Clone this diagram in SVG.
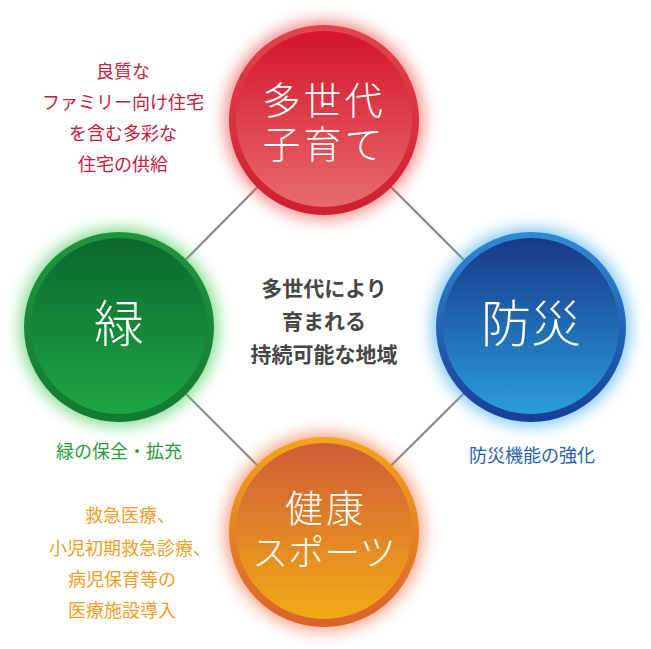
<svg xmlns="http://www.w3.org/2000/svg" width="651" height="649" viewBox="0 0 651 649">
<defs>
<style>
.conn{stroke:#8c8c8c;stroke-width:2.2;fill:none}
.big{font-family:"Noto Sans CJK JP","Noto Sans",sans-serif;font-weight:300;fill:#fff;text-anchor:middle}
.lbl{font-family:"Noto Sans CJK JP","Noto Sans",sans-serif;font-size:18px;text-anchor:middle}
.ctr{font-family:"Noto Sans CJK JP","Noto Sans",sans-serif;font-size:21px;font-weight:700;fill:#464646;text-anchor:middle}
</style>
<filter id="glow" x="-30%" y="-30%" width="160%" height="160%"><feGaussianBlur stdDeviation="8"/></filter>
<linearGradient id="rRing" x1="0" y1="0" x2="0" y2="1"><stop offset="0" stop-color="#e2454c"/><stop offset="1" stop-color="#cf1f2f"/></linearGradient>
<linearGradient id="rIn" x1="0" y1="0" x2="0" y2="1"><stop offset="0" stop-color="#d3152c"/><stop offset="1" stop-color="#e86b6b"/></linearGradient>
<linearGradient id="gRing" x1="0" y1="0" x2="0" y2="1"><stop offset="0" stop-color="#20963c"/><stop offset="1" stop-color="#137a31"/></linearGradient>
<linearGradient id="gIn" x1="0" y1="0" x2="0" y2="1"><stop offset="0" stop-color="#0b682e"/><stop offset="1" stop-color="#1ea644"/></linearGradient>
<linearGradient id="bRing" x1="0" y1="0" x2="0" y2="1"><stop offset="0" stop-color="#2f8ad6"/><stop offset="1" stop-color="#183e96"/></linearGradient>
<linearGradient id="bIn" x1="0" y1="0" x2="0" y2="1"><stop offset="0" stop-color="#183888"/><stop offset="1" stop-color="#2a9ddc"/></linearGradient>
<linearGradient id="oRing" x1="0" y1="0" x2="0" y2="1"><stop offset="0" stop-color="#f2a51a"/><stop offset="1" stop-color="#d8622e"/></linearGradient>
<linearGradient id="oIn" x1="0" y1="0" x2="0" y2="1"><stop offset="0" stop-color="#cf5c38"/><stop offset="1" stop-color="#f2aa14"/></linearGradient>
</defs>
<rect width="651" height="649" fill="#fff"/>
<g id="connectors">
<line class="conn" x1="324" y1="120" x2="119" y2="327"/>
<line class="conn" x1="324" y1="120" x2="531" y2="327"/>
<line class="conn" x1="119" y1="327" x2="324" y2="532"/>
<line class="conn" x1="531" y1="327" x2="324" y2="532"/>
</g>
<g id="node-red">
<circle cx="324" cy="120" r="99" fill="#f0524f" opacity="0.7" filter="url(#glow)"/>
<circle cx="324" cy="120" r="95" fill="url(#rRing)"/>
<circle cx="324" cy="119" r="88" fill="url(#rIn)"/>
<text class="big" font-size="38" letter-spacing="3"><tspan x="324" y="114">多世代</tspan><tspan x="324" y="158">子育て</tspan></text>
</g>
<g id="node-green">
<circle cx="119" cy="327" r="99" fill="#4ccf5a" opacity="0.7" filter="url(#glow)"/>
<circle cx="119" cy="327" r="95" fill="url(#gRing)"/>
<circle cx="119" cy="326" r="88" fill="url(#gIn)"/>
<text class="big" x="119" y="342" font-size="50">緑</text>
</g>
<g id="node-blue">
<circle cx="531" cy="327" r="99" fill="#4fb4f0" opacity="0.75" filter="url(#glow)"/>
<circle cx="531" cy="327" r="95" fill="url(#bRing)"/>
<circle cx="531" cy="326" r="88" fill="url(#bIn)"/>
<text class="big" x="531" y="342" font-size="50">防災</text>
</g>
<g id="node-orange">
<circle cx="324" cy="532" r="99" fill="#f06a3c" opacity="0.65" filter="url(#glow)"/>
<circle cx="324" cy="532" r="95" fill="url(#oRing)"/>
<circle cx="324" cy="531" r="88" fill="url(#oIn)"/>
<text class="big" font-size="38"><tspan x="326" y="522" letter-spacing="3">健康</tspan><tspan x="324" y="566" font-size="36">スポーツ</tspan></text>
</g>
<g id="label-red" class="lbl" fill="#c4203a">
<text x="123" y="78">良質な</text>
<text x="123" y="109">ファミリー向け住宅</text>
<text x="123" y="140">を含む多彩な</text>
<text x="123" y="171">住宅の供給</text>
</g>
<g id="label-green" class="lbl" fill="#2a9a3c">
<text x="119" y="458">緑の保全・拡充</text>
</g>
<g id="label-blue" class="lbl" fill="#1f62aa">
<text x="532" y="462">防災機能の強化</text>
</g>
<g id="label-orange" class="lbl" fill="#eb9e2a">
<text x="130" y="522">救急医療、</text>
<text x="130" y="555">小児初期救急診療、</text>
<text x="122" y="586">病児保育等の</text>
<text x="122" y="617">医療施設導入</text>
</g>
<g id="center-text">
<text class="ctr" x="324" y="296">多世代により</text>
<text class="ctr" x="324" y="329">育まれる</text>
<text class="ctr" x="324" y="362">持続可能な地域</text>
</g>
</svg>
